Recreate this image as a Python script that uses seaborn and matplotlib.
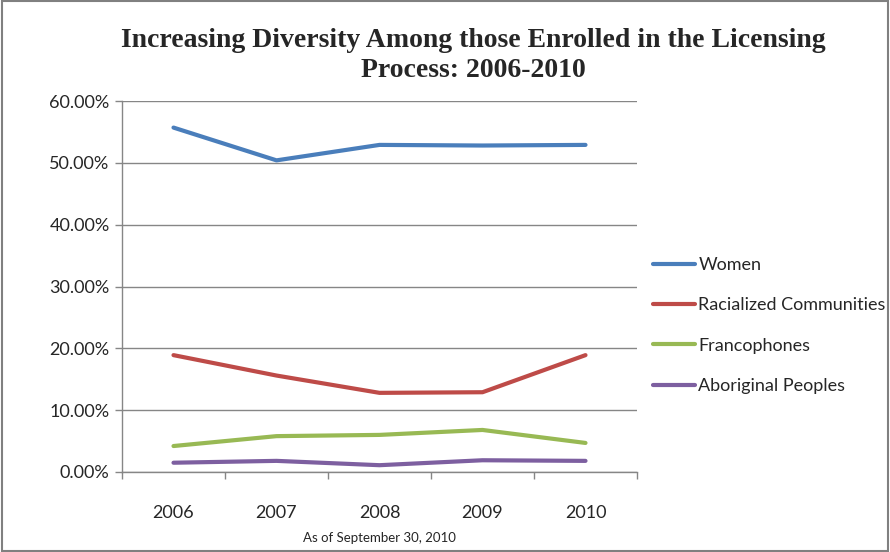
import pandas as pd
import numpy as np
import matplotlib.pyplot as plt
import matplotlib.ticker as mticker
import seaborn as sns

# ================================================================
# Data (percent of those enrolled)
# ================================================================
years = ['2006', '2007', '2008', '2009', '2010']
women = [55.7, 50.4, 52.9, 52.8, 52.9]
racialized = [18.9, 15.6, 12.8, 12.9, 18.9]
francophones = [4.2, 5.8, 6.0, 6.8, 4.7]
aboriginal = [1.5, 1.8, 1.1, 1.9, 1.8]

series_names = ['Women', 'Racialized Communities', 'Francophones', 'Aboriginal Peoples']
colors = ['#4A7EBB', '#BE4B48', '#98B954', '#7D5FA0']

df = pd.DataFrame({
    'year': years * 4,
    'value': women + racialized + francophones + aboriginal,
    'group': [name for name in series_names for _ in years],
})
df['x'] = df['year'].map({y: i for i, y in enumerate(years)})

# ================================================================
# Plot
# ================================================================
sns.set_style('white')
plt.rcParams['font.family'] = ['Lato', 'DejaVu Sans']

fig = plt.figure(figsize=(8.9, 5.52), dpi=100)
ax = fig.add_axes([122 / 890, 1 - 472 / 552, (637 - 122) / 890, (472 - 101) / 552])

sns.lineplot(data=df, x='x', y='value', hue='group', hue_order=series_names,
             palette=colors, linewidth=3, ax=ax, legend=True)

ax.set_xlim(-0.5, len(years) - 0.5)
ax.set_ylim(0, 60)
ax.yaxis.set_major_locator(mticker.MultipleLocator(10))
ax.yaxis.set_major_formatter(mticker.FuncFormatter(lambda v, p: f'{v:.2f}%'))
ax.set_xticks(range(len(years)))
ax.set_xticklabels(years)
ax.set_xticks(np.arange(-0.5, len(years), 1), minor=True)
ax.tick_params(axis='x', which='major', length=0, pad=24, labelsize=13)
ax.tick_params(axis='x', which='minor', length=5, color='#868686', width=1)
ax.tick_params(axis='y', which='major', length=5, color='#868686', width=1, labelsize=13, pad=4)
ax.yaxis.set_ticks_position('left')
ax.xaxis.set_ticks_position('bottom')

ax.grid(axis='y', color='#868686', linewidth=1)
ax.set_axisbelow(True)
for side in ['top', 'right']:
    ax.spines[side].set_visible(False)
for side in ['left', 'bottom']:
    ax.spines[side].set_color('#868686')
    ax.spines[side].set_linewidth(1)

ax.set_xlabel('As of September 30, 2010', fontsize=9.5, labelpad=8)
ax.set_ylabel('')

leg = ax.legend(loc='center left', bbox_to_anchor=(1.0, 0.395), frameon=False,
                fontsize=13, handlelength=2.3, handletextpad=0.2, labelspacing=1.35)
for line in leg.get_lines():
    line.set_linewidth(3)

fig.text(0.532, 0.90, 'Increasing Diversity Among those Enrolled in the Licensing\nProcess: 2006-2010',
         ha='center', va='center', fontsize=20, fontweight='bold',
         family=['Liberation Serif', 'DejaVu Serif'], linespacing=1.25)

# frame around the whole picture
fig.patches.append(plt.Rectangle((0.002, 0.002), 0.996, 0.996, transform=fig.transFigure,
                                 fill=False, edgecolor='#808080', linewidth=1.5))

plt.savefig('out.png', dpi=100)
